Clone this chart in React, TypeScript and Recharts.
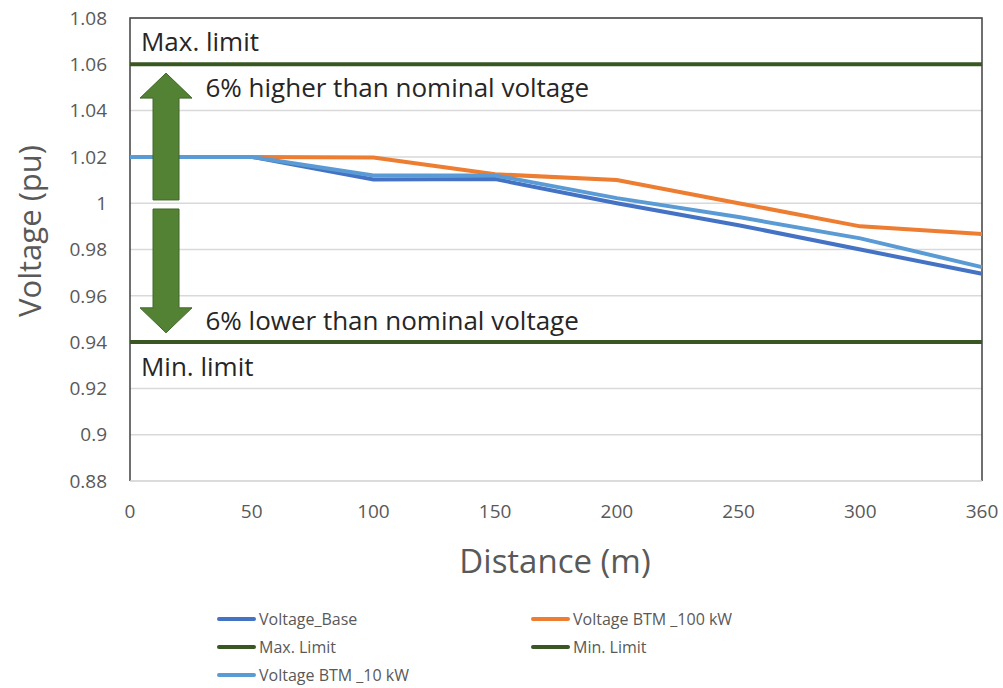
import React from "react";
import {
  LineChart,
  Line,
  XAxis,
  YAxis,
  CartesianGrid,
  ReferenceLine,
  ReferenceDot,
  ReferenceArea,
  Legend,
} from "recharts";

// x positions are evenly spaced categories (note 300 -> 360 gets the same gap)
const distanceLabels = ["0", "50", "100", "150", "200", "250", "300", "360"];
const voltageBase = [1.02, 1.02, 1.0102, 1.0104, 1.0, 0.9905, 0.98, 0.9695];
const voltageBtm100 = [1.02, 1.02, 1.0197, 1.0125, 1.01, 1.0, 0.99, 0.9867];
const voltageBtm10 = [1.02, 1.02, 1.012, 1.012, 1.0022, 0.994, 0.9848, 0.9724];
const maxLimit = [1.06, 1.06, 1.06, 1.06, 1.06, 1.06, 1.06, 1.06];
const minLimit = [0.94, 0.94, 0.94, 0.94, 0.94, 0.94, 0.94, 0.94];
const yTicks = [0.88, 0.9, 0.92, 0.94, 0.96, 0.98, 1.0, 1.02, 1.04, 1.06, 1.08];

const series = [
  { key: "base", name: "Voltage_Base", color: "#4472C4" },
  { key: "btm100", name: "Voltage BTM _100 kW", color: "#ED7D31" },
  { key: "max", name: "Max. Limit", color: "#385723" },
  { key: "min", name: "Min. Limit", color: "#385723" },
  { key: "btm10", name: "Voltage BTM _10 kW", color: "#5B9BD5" },
];

const data = distanceLabels.map((label, i) => ({
  idx: i,
  label,
  base: voltageBase[i],
  btm100: voltageBtm100[i],
  max: maxLimit[i],
  min: minLimit[i],
  btm10: voltageBtm10[i],
}));

const FONT = "'Open Sans', 'Noto Sans', sans-serif";
const GREY = "#595959";

// block arrow drawn from (x1,y1) to (x2,y2), head at the end
function BlockArrow(props: any) {
  const { x1, y1, x2, y2 } = props;
  const dir = y2 < y1 ? -1 : 1;
  const head = 25;
  const shaftW = 13;
  const headW = 26;
  const neck = y2 - dir * head;
  const pts = [
    [x1 - shaftW, y1],
    [x1 - shaftW, neck],
    [x1 - headW, neck],
    [x2, y2],
    [x1 + headW, neck],
    [x1 + shaftW, neck],
    [x1 + shaftW, y1],
  ]
    .map((p) => p.join(","))
    .join(" ");
  return <polygon points={pts} fill="#548235" stroke="#41672A" strokeWidth={1} />;
}

function Note(text: string) {
  return (props: any) => (
    <text
      x={props.cx}
      y={props.cy}
      dominantBaseline="central"
      fontFamily={FONT}
      fontSize={26}
      fill="#262626"
    >
      {text}
    </text>
  );
}

function PlotBorder(props: any) {
  const { x, y, width, height } = props;
  return (
    <path
      d={`M${x},${y + height} L${x},${y} L${x + width},${y} L${x + width},${y + height}`}
      fill="none"
      stroke="#404040"
      strokeWidth={1.5}
    />
  );
}

function LegendBox() {
  return (
    <div
      style={{
        display: "grid",
        gridTemplateColumns: "314px 300px",
        rowGap: 6,
        paddingLeft: 217,
        fontFamily: FONT,
        fontSize: 16,
        color: GREY,
      }}
    >
      {series.map((s) => (
        <div key={s.key} style={{ display: "flex", alignItems: "center", height: 22 }}>
          <span
            style={{
              display: "inline-block",
              width: 39,
              height: 4,
              borderRadius: 2,
              background: s.color,
              marginRight: 3,
            }}
          />
          <span>{s.name}</span>
        </div>
      ))}
    </div>
  );
}

export default function App() {
  return (
    <div style={{ width: 1003, height: 688, position: "relative" }}>
      <style>{"body { margin: 0; } svg.recharts-surface { overflow: visible; }"}</style>
      <LineChart
        width={1003}
        height={688}
        data={data}
        margin={{ top: 18, right: 21, left: 0, bottom: 167 }}
      >
        <CartesianGrid vertical={false} stroke="#D9D9D9" strokeWidth={1.5} />
        <XAxis
          dataKey="idx"
          type="number"
          domain={[0, 7]}
          ticks={[0, 1, 2, 3, 4, 5, 6, 7]}
          tickFormatter={(v: number) => distanceLabels[v]}
          height={40}
          axisLine={{ stroke: "#D9D9D9", strokeWidth: 1.5 }}
          tickLine={false}
          tickMargin={18}
          tick={{ fontSize: 19, fill: GREY, fontFamily: FONT }}
        />
        <YAxis
          type="number"
          domain={[0.88, 1.08]}
          ticks={yTicks}
          tickFormatter={(v: number) => String(Number(v.toFixed(2)))}
          width={130}
          axisLine={false}
          tickLine={false}
          tickMargin={17}
          tick={{ fontSize: 19, fill: GREY, fontFamily: FONT }}
        />
        {series.map((s) => (
          <Line
            key={s.key}
            dataKey={s.key}
            name={s.name}
            type="linear"
            stroke={s.color}
            strokeWidth={4}
            dot={false}
            activeDot={false}
            isAnimationActive={false}
          />
        ))}
        <ReferenceLine
          segment={[
            { x: 0.296, y: 1.0014 },
            { x: 0.296, y: 1.0562 },
          ]}
          shape={(p: any) => <BlockArrow {...p} />}
        />
        <ReferenceLine
          segment={[
            { x: 0.296, y: 0.9975 },
            { x: 0.296, y: 0.944 },
          ]}
          shape={(p: any) => <BlockArrow {...p} />}
        />
        <ReferenceDot x={0.09} y={1.07} shape={Note("Max. limit")} />
        <ReferenceDot x={0.62} y={1.0502} shape={Note("6% higher than nominal voltage")} />
        <ReferenceDot x={0.62} y={0.9497} shape={Note("6% lower than nominal voltage")} />
        <ReferenceDot x={0.09} y={0.9297} shape={Note("Min. limit")} />
        <ReferenceArea x1={0} x2={7} y1={0.88} y2={1.08} shape={(p: any) => <PlotBorder {...p} />} />
        <Legend
          verticalAlign="middle"
          layout="horizontal"
          align="center"
          wrapperStyle={{ top: 608, left: 0, width: 1003 }}
          content={() => <LegendBox />}
        />
        <text
          x={555}
          y={560}
          textAnchor="middle"
          dominantBaseline="central"
          fontFamily={FONT}
          fontSize={33}
          fill={GREY}
        >
          Distance (m)
        </text>
        <text
          x={0}
          y={0}
          transform="translate(29,231) rotate(-90)"
          textAnchor="middle"
          dominantBaseline="central"
          fontFamily={FONT}
          fontSize={31}
          fill={GREY}
        >
          Voltage (pu)
        </text>
      </LineChart>
    </div>
  );
}
